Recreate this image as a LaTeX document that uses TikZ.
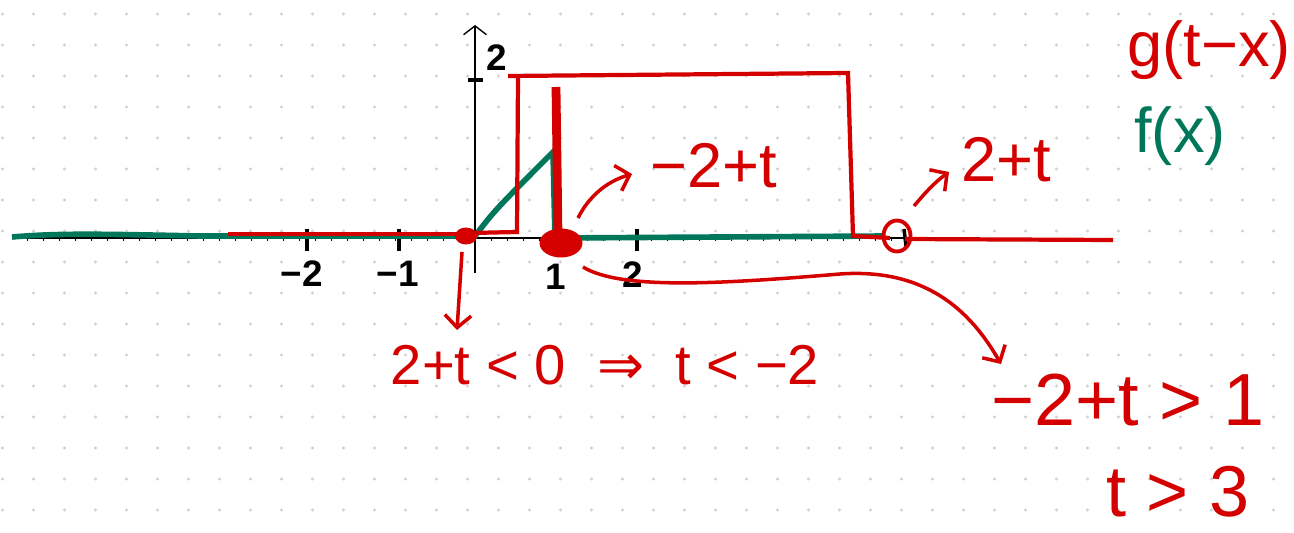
\documentclass[tikz,border=0pt]{standalone}
\usepackage{fontspec}
\setmainfont{Liberation Sans}
\newfontfamily\arrowfont{DejaVu Sans}
\usetikzlibrary{arrows.meta}
\definecolor{penred}{HTML}{D40000}
\definecolor{pengreen}{HTML}{00775A}
\definecolor{dotgrey}{HTML}{CFCFCF}
\tikzset{line cap=round,line join=round,
  every node/.style={inner sep=0pt},
  axis/.style={draw=black,line width=.8pt},
  tick/.style={draw=black,line width=2pt},
  minortick/.style={draw=black,line width=.4pt},
  fcurve/.style={draw=pengreen,line width=3.2pt},
  gcurve/.style={draw=penred,line width=2.4pt},
  hint/.style={-{Straight Barb[length=7pt,width=15pt]},draw=penred,line width=2pt},
  ticklabel/.style={font=\bfseries\fontsize{21}{21}\selectfont},
  note/.style={text=penred,font=\fontsize{36}{36}\selectfont}}
\begin{document}
\begin{tikzpicture}[x=0.02cm,y=-0.02cm]
\useasboundingbox (0,0) rectangle (1294,533);
% dotted paper
\foreach \i in {0,...,41} {\foreach \j in {0,...,16} {\fill[dotgrey] (2.5+31*\i,14+31*\j) circle(0.9pt);}}
% axes
\coordinate (xl) at (12,238);\coordinate (xr) at (905,238);\coordinate (yb) at (475,273);\coordinate (yt) at (475,25);
\draw[axis] (xl)--(xr);
\draw[axis,-{Straight Barb[length=5pt,width=13pt]}] (yb)--(yt);
\foreach \k in {-28,...,26} {\draw[minortick] (475+16*\k,238)--++(0,3);}
\foreach \x in {307,399,637} {\draw[tick] (\x,229)--(\x,251);}
\draw[tick] (904,229)--(906,246);\draw[tick] (468,80)--(483,80);
\node[ticklabel] (lm2) at (302,274) {−2};\node[ticklabel] (lm1) at (398,274) {−1};
\node[ticklabel] (lp1) at (556,277) {1};\node[ticklabel] (lp2) at (633,275) {2};
\node[ticklabel] (ly2) at (497,58) {2};
% f(x)
\draw[fcurve] (12,237) .. controls (60,233) and (100,234) .. (200,236) -- (475,236) .. controls (495,210) .. (553,152) -- (555,238) -- (885,236);
% g(t-x)
\draw[gcurve] (228,234)--(460,234);
\draw[gcurve] (470,233)--(517,232)--(518,76);
\draw[gcurve] (508,76)--(848,73)--(853,236)--(890,238);
\draw[gcurve] (905,239)--(1113,240);
\draw[penred,line width=5pt] (556,87)--(558,237);
\coordinate (rdot) at (466,236);\fill[penred] (rdot) ellipse[x radius=0.22cm,y radius=0.17cm];
\coordinate (blob) at (561,243);\fill[penred] (blob) ellipse[x radius=0.43cm,y radius=0.29cm];
\coordinate (ring) at (897,236);\draw[penred,line width=2.2pt] (ring) ellipse[x radius=0.27cm,y radius=0.31cm];
% hints
\coordinate (a1s) at (462,252);\coordinate (a1e) at (457,330);
\coordinate (a2s) at (583,267);\coordinate (a2e) at (1001,364);
\coordinate (a3s) at (578,218);\coordinate (a3e) at (632,174);
\coordinate (a4s) at (914,206);\coordinate (a4e) at (949,172);
\draw[hint] (a1s)--(a1e);
\draw[hint] (a2s) .. controls (620,290) and (720,284) .. (840,274) .. controls (925,268) and (970,310) .. (a2e);
\draw[hint] (a3s) .. controls (588,198) and (605,182) .. (a3e);
\draw[hint] (a4s) .. controls (925,193) and (935,182) .. (a4e);
\node[note] (lower) at (714,166) {−2+t};
\node[note] (upper) at (1006,160) {2+t};
\node[note,font=\fontsize{32}{32}\selectfont] (nooverlap) at (605,365) {2+t\;<\;0\;\;{\arrowfont ⇒}\;\;t\;<\;−2};
\node[note,font=\fontsize{42}{42}\selectfont] (condition) at (1128,400) {−2+t > 1};
\node[note,font=\fontsize{41}{41}\selectfont] (result) at (1178,492) {t > 3};
\node[note] (glabel) at (1209,50) {g(t−x)};
\node[note,text=pengreen] (flabel) at (1180,136) {f(x)};
\end{tikzpicture}
\end{document}
